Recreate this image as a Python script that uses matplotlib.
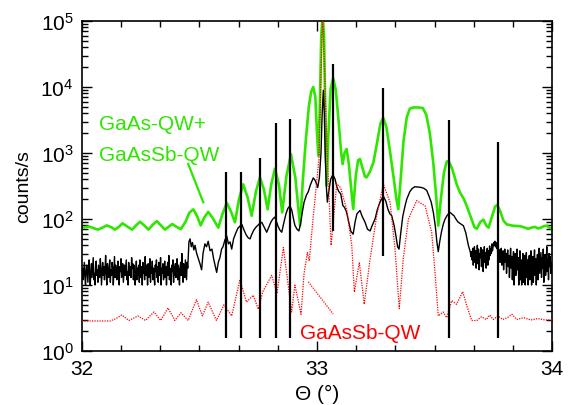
import numpy as np
import matplotlib
matplotlib.use('Agg')
import matplotlib.pyplot as plt
from matplotlib.ticker import MultipleLocator, LogLocator, NullFormatter

plt.rcParams['font.family'] = ['Liberation Sans', 'DejaVu Sans']
plt.rcParams['mathtext.fontset'] = 'custom'
plt.rcParams['mathtext.rm'] = 'Liberation Sans'

# simulation GaAs-QW + GaAsSb-QW (green)
green_x = [32.000, 32.030, 32.068, 32.087, 32.106, 32.125, 32.140, 32.157, 32.172, 32.190,
           32.213, 32.230, 32.247, 32.265, 32.283, 32.300, 32.318, 32.336, 32.353, 32.368,
           32.384, 32.400, 32.420, 32.440, 32.457, 32.474, 32.490, 32.505, 32.520, 32.537,
           32.555, 32.580, 32.598, 32.616, 32.634, 32.651, 32.668, 32.686, 32.705, 32.722,
           32.740, 32.757, 32.774, 32.790, 32.805, 32.821, 32.838, 32.852, 32.870, 32.889,
           32.908, 32.928, 32.940, 32.952, 32.965, 32.975, 32.984, 32.993, 33.000, 33.006,
           33.012, 33.018, 33.024, 33.030, 33.036, 33.041, 33.048, 33.058, 33.069, 33.080,
           33.092, 33.103, 33.109, 33.117, 33.126, 33.135, 33.145, 33.154, 33.165, 33.175,
           33.183, 33.193, 33.204, 33.211, 33.225, 33.240, 33.255, 33.270, 33.282, 33.295,
           33.310, 33.325, 33.338, 33.346, 33.356, 33.368, 33.382, 33.395, 33.410, 33.430,
           33.450, 33.465, 33.480, 33.495, 33.508, 33.516, 33.527, 33.540, 33.552, 33.560,
           33.575, 33.595, 33.609, 33.625, 33.637, 33.655, 33.670, 33.680, 33.695, 33.708,
           33.720, 33.730, 33.745, 33.758, 33.767, 33.780, 33.793, 33.807, 33.835, 33.864,
           33.880, 33.898, 33.913, 33.928, 33.940, 33.953, 33.965, 33.977, 33.990, 34.000]
green_y = [74, 77, 69, 74, 80, 75, 69, 76, 86, 78,
           69, 80, 91, 80, 69, 81, 93, 80, 69, 76,
           84, 77, 70, 90, 125, 140, 110, 80, 105, 128,
           105, 74, 120, 175, 130, 89, 200, 335, 210, 112,
           260, 430, 280, 140, 330, 580, 330, 126, 450, 960,
           420, 79, 400, 1500, 5000, 8500, 10000, 7000, 2000, 910,
           5000, 60000, 120000, 60000, 3000, 320, 1800, 9500, 13500, 9000,
           3000, 1000, 680, 1000, 1150, 700, 300, 142, 450, 780,
           810, 600, 440, 427, 520, 720, 1400, 2800, 3400, 2500,
           1100, 450, 200, 141, 400, 1500, 3500, 4700, 4900, 4900,
           4800, 3800, 2000, 700, 200, 79, 200, 500, 740, 760,
           580, 330, 250, 200, 158, 105, 75, 71, 90, 98,
           80, 74, 110, 155, 163, 130, 95, 83, 79, 78,
           75, 71, 74, 76, 72, 74, 78, 79, 74, 71]

# measurement (black): noisy start, structured middle, noisy end
black_left = [14, 18, 12, 16, 22, 13, 10, 17, 20, 15, 11, 19, 24, 14, 10, 16, 21, 13, 18, 26,
              12, 15, 10, 19, 23, 14, 17, 11, 20, 16, 13, 25, 18, 10, 15, 22, 14, 19, 12, 17,
              28, 15, 10, 21, 16, 13, 19, 24, 11, 17, 14, 22, 18, 10, 16, 27, 13, 20, 15, 12,
              18, 23, 14, 10, 19, 16, 25, 13, 17, 21, 11, 15, 20, 14, 18, 24, 12, 16, 10, 22,
              17, 14, 19, 13, 26, 18, 21, 12, 20, 15, 10, 16, 23, 12, 18, 14, 20, 11, 24, 17,
              13, 19, 10, 22, 15, 18, 12, 27, 14, 20, 16, 10, 21, 13, 17, 25, 11, 19, 15, 23,
              12, 18, 14, 10, 20, 16, 24, 13, 19, 11, 22, 17, 14, 26, 10, 18, 15, 21, 12, 16,
              23, 13, 19, 10, 17, 22, 14, 28, 12, 18, 15, 10, 20, 16, 24, 11, 19, 14, 21, 13,
              17, 25, 12, 20, 15, 10, 18, 22, 14, 30, 16, 11, 21, 19, 13, 24, 17, 12, 22, 18]
black_mid_x = [32.455, 32.460, 32.465, 32.470, 32.476, 32.481, 32.488, 32.495, 32.502, 32.509,
               32.515, 32.523, 32.530, 32.537, 32.545, 32.553, 32.560, 32.566, 32.573, 32.580,
               32.587, 32.594, 32.600, 32.608, 32.616, 32.623, 32.630, 32.637, 32.645, 32.655,
               32.663, 32.672, 32.680, 32.688, 32.698, 32.707, 32.715, 32.722, 32.731, 32.740,
               32.748, 32.757, 32.765, 32.773, 32.780, 32.786, 32.795, 32.804, 32.812, 32.821,
               32.828, 32.834, 32.842, 32.850, 32.858, 32.868, 32.876, 32.885, 32.893, 32.900,
               32.906, 32.915, 32.923, 32.930, 32.938, 32.945, 32.955, 32.963, 32.972, 32.984,
               32.993, 33.003, 33.010, 33.017, 33.022, 33.027, 33.031, 33.035, 33.040, 33.044,
               33.050, 33.058, 33.065, 33.069, 33.077, 33.085, 33.093, 33.101, 33.110, 33.117,
               33.125, 33.135, 33.144, 33.154, 33.162, 33.170, 33.183, 33.192, 33.204, 33.215,
               33.226, 33.235, 33.247, 33.257, 33.268, 33.282, 33.293, 33.302, 33.310, 33.318,
               33.328, 33.336, 33.343, 33.349, 33.356, 33.365, 33.375, 33.382, 33.395, 33.405,
               33.416, 33.430, 33.445, 33.456, 33.467, 33.477, 33.486, 33.495, 33.503, 33.510,
               33.516, 33.522, 33.530, 33.538, 33.545, 33.555, 33.566, 33.575, 33.583, 33.591,
               33.600, 33.610, 33.623, 33.633, 33.644, 33.652]
black_mid_y = [45, 50, 38, 44, 34, 40, 30, 25, 21, 17,
               30, 42, 38, 46, 33, 35, 25, 20, 15.5, 22,
               26, 35, 38, 48, 55, 42, 45, 35, 50, 62,
               72, 78, 83, 70, 58, 52, 50, 58, 68, 75,
               80, 86, 89, 78, 70, 63, 75, 90, 100, 107,
               90, 78, 68, 63, 85, 120, 145, 158, 135, 100,
               80, 70, 66, 85, 130, 180, 230, 260, 330, 420,
               380, 300, 420, 1000, 4000, 8900, 4000, 900, 300, 180,
               260, 400, 450, 460, 400, 300, 260, 240, 160, 150,
               130, 90, 65, 59, 90, 120, 135, 110, 90, 70,
               66, 80, 100, 140, 180, 224, 185, 140, 120, 112,
               80, 55, 38, 35, 60, 110, 160, 200, 260, 290,
               308, 305, 300, 290, 270, 220, 180, 126, 80, 45,
               32, 45, 65, 85, 100, 115, 126, 118, 112, 100,
               90, 85, 79, 62, 40, 32]
black_right = [27, 32, 24, 36, 20, 30, 38, 22, 33, 18, 28, 40, 21, 35, 17, 30, 26, 37, 19, 29,
               34, 16, 27, 38, 22, 31, 18, 28, 36, 20, 33, 24, 39, 28, 35, 30, 42, 33, 38, 44,
               40, 46, 38, 44, 36, 41, 30, 37, 26, 34, 22, 31, 36, 20, 28, 33, 17, 27, 35, 22,
               30, 15, 25, 34, 19, 28, 13, 24, 36, 18, 27, 12, 22, 32, 10, 25, 30, 14, 20, 35,
               17, 26, 10, 21, 33, 12, 24, 10, 19, 30, 11, 22, 28, 10, 16, 31, 13, 24, 10, 20,
               28, 12, 23, 33, 10, 18, 27, 11, 22, 34, 14, 25, 10, 19, 29, 12, 24, 36, 15, 21,
               31, 13, 26, 18, 35, 11, 23, 29, 14, 20, 38, 16, 25, 12, 30, 19, 27, 15, 22, 18]

# simulation GaAsSb-QW (red)
red_x = [32.000, 32.120, 32.145, 32.169, 32.200, 32.238, 32.270, 32.306, 32.335, 32.366,
         32.395, 32.421, 32.452, 32.487, 32.512, 32.537, 32.572, 32.604, 32.637, 32.672,
         32.700, 32.729, 32.750, 32.770, 32.807, 32.830, 32.857, 32.892, 32.906, 32.932,
         32.945, 32.959, 32.967, 32.983, 33.008, 33.018, 33.024, 33.030, 33.041, 33.060,
         33.084, 33.100, 33.126, 33.148, 33.159, 33.180, 33.201, 33.226, 33.254, 33.282,
         33.311, 33.332, 33.350, 33.367, 33.389, 33.424, 33.460, 33.488, 33.502, 33.516,
         33.537, 33.552, 33.573, 33.594, 33.620, 33.637, 33.658, 33.680, 33.700, 33.720,
         33.735, 33.750, 33.770, 33.790, 33.810, 33.830, 33.850, 33.880, 33.910, 33.940,
         33.970, 34.000]
red_y = [2.85, 2.85, 3.1, 3.5, 2.9, 3.4, 2.9, 3.9, 2.9, 4.5,
         2.9, 3.8, 2.9, 6.0, 3.4, 5.5, 2.9, 5.0, 3.4, 12.0,
         5.5, 7.0, 4.3, 8.0, 14.0, 7.5, 37.0, 3.9, 10.0, 3.6,
         15, 31, 23, 100, 800, 20000, 150000, 30000, 1600, 40,
         340, 300, 141, 40, 7.8, 22, 5.1, 25, 112, 340,
         178, 35, 4.4, 25, 100, 190, 158, 63, 15.5, 3.4,
         3.9, 3.2, 5.8, 5.1, 7.9, 4.9, 2.9, 2.9, 3.3, 3.0,
         3.5, 3.0, 3.4, 3.0, 3.2, 3.6, 3.0, 3.2, 2.95, 3.1,
         2.95, 2.95]

# satellite positions (vertical markers): position, top, bottom
sat_x = [32.613, 32.678, 32.757, 32.826, 32.885, 33.069, 33.280, 33.563, 33.770]
sat_top = [513, 513, 832, 2818, 3311, 22400, 9550, 3162, 1445]
sat_bot = [1.55, 1.55, 1.55, 1.55, 1.55, 66, 27.5, 1.55, 1.55]

fig = plt.figure(figsize=(5.77, 4.06), dpi=100)
ax = fig.add_axes([0.1421, 0.1330, 0.8146, 0.8128])

green = '#2ee600'
ax.plot(green_x, green_y, color=green, lw=1.9, zorder=2)

bx = list(np.linspace(32.0, 32.45, len(black_left))) + black_mid_x + \
    list(np.linspace(33.655, 34.0, len(black_right)))
by = black_left + black_mid_y + black_right
ax.plot(bx, by, color='black', lw=1.0, zorder=3)

ax.plot(red_x, red_y, color='red', lw=0.9, linestyle=(0, (1, 1)), zorder=4)

ax.vlines(sat_x, sat_bot, sat_top, color='black', lw=1.6, zorder=5)

# labels with pointer lines
ax.text(32.072, 2311, 'GaAs-QW+', color=green, fontsize=15, va='baseline')
ax.text(32.072, 783, 'GaAsSb-QW', color=green, fontsize=15, va='baseline')
ax.plot([32.452, 32.516], [681, 179], color=green, lw=1.6)
ax.text(32.928, 1.556, 'GaAsSb-QW', color='red', fontsize=15, va='baseline')
ax.plot([32.963, 33.069], [11.2, 3.63], color='red', lw=0.9, linestyle=(0, (1, 1)))

ax.set_yscale('log')
ax.set_xlim(32, 34)
ax.set_ylim(1, 1e5)
ax.xaxis.set_major_locator(MultipleLocator(1))
ax.xaxis.set_minor_locator(MultipleLocator(1 / 6))
ax.yaxis.set_major_locator(LogLocator(base=10, numticks=10))
ax.yaxis.set_minor_locator(LogLocator(base=10, subs=np.arange(2, 10), numticks=10))
ax.yaxis.set_minor_formatter(NullFormatter())
ax.tick_params(which='both', direction='in', top=True, right=True, labelsize=15, width=1.0)
ax.tick_params(which='major', length=7, pad=6)
ax.tick_params(which='minor', length=4)
for s in ax.spines.values():
    s.set_linewidth(1.2)

ax.set_xlabel('Θ (°)', fontsize=15, labelpad=4)
ax.set_ylabel('counts/s', fontsize=14, labelpad=6)

fig.savefig('out.png', dpi=100)
